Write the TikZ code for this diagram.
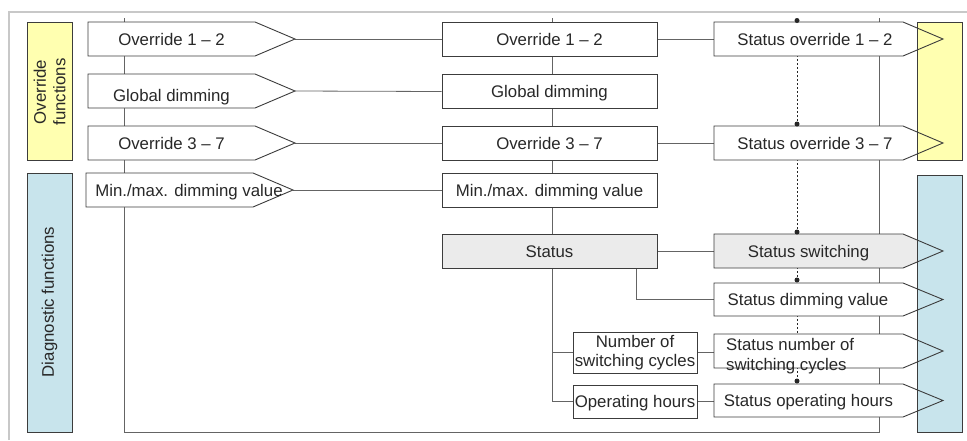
\documentclass[tikz,border=0pt]{standalone}
\usepackage{fontspec}
\setmainfont{Liberation Sans}
\usetikzlibrary{fit,calc}
\definecolor{framec}{RGB}{200,200,200}
\definecolor{bordc}{RGB}{60,60,60}
\definecolor{linec}{RGB}{100,100,100}
\definecolor{txtc}{RGB}{40,40,40}
\definecolor{ylw}{RGB}{255,255,176}
\definecolor{blu}{RGB}{200,228,236}
\definecolor{stg}{RGB}{235,235,235}
\pgfdeclarelayer{bg}
\pgfsetlayers{bg,main}
\tikzset{
  bord/.style={draw=bordc, line width=0.9pt},
  conn/.style={draw=linec, line width=0.8pt},
  txt/.style={text=txtc, font=\fontsize{16.8}{19.5}\selectfont, inner sep=1pt},
  one/.style={text height=12.5pt, text depth=0.5pt},
  midbox/.style={bord, fill=white, minimum width=215pt, minimum height=34pt, txt},
  colbox/.style={bord, minimum width=45pt},
  dotc/.style={fill=black!85, draw=none, circle, minimum size=5pt, inner sep=0pt},
  dotline/.style={draw=black!85, line width=0.9pt, dash pattern=on 1.5pt off 2.5pt},
}
\newcommand\mkpent[7]{%
  \coordinate (#1-a) at (#2,#5);
  \coordinate (#1-b) at (#3,#6);
  \node[fit=(#1-a)(#1-b), inner sep=0pt, outer sep=0pt, draw=none] (#1) {};
  \coordinate (#1-tip) at (#4,{(#5+#6)/2});
  \fill[#7] (#1.north west) -- (#1.north east) -- (#1-tip) -- (#1.south east) -- (#1.south west) -- cycle;
}
\newcommand\outpent[1]{%
  \draw[bord] (#1.north west) -- (#1.north east) -- (#1-tip) -- (#1.south east) -- (#1.south west) -- cycle;
}
\begin{document}
\begin{tikzpicture}[x=1pt,y=-1pt]
\useasboundingbox (0,0) rectangle (967,440);
% frame
\coordinate (f1) at (9,440);
\coordinate (f2) at (9,12);
\coordinate (f3) at (967,12);
\draw[framec, line width=2pt] (f1) -- (f2) -- (f3);
% left colour boxes
\node[colbox, fill=ylw, minimum height=138pt] (yL) at (49.5,91) {};
\node[colbox, fill=blu, minimum height=259pt] (bL) at (49.5,302.5) {};
% pentagon fills
\mkpent{L1}{88}{255}{295}{22}{56}{white}
\mkpent{L2}{88}{255}{295}{74}{108}{white}
\mkpent{L3}{88}{255}{295}{126}{160}{white}
\mkpent{L4}{86}{253}{293}{173}{207}{white}
\mkpent{R1}{714}{903}{943}{22}{56}{white}
\mkpent{R2}{714}{903}{943}{126}{160}{white}
\mkpent{R3}{714}{903}{943}{234}{268}{stg}
\mkpent{R4}{714}{903}{943}{283}{316}{white}
\mkpent{R5}{714}{903}{943}{334}{368}{white}
\mkpent{R6}{714}{903}{943}{384}{417}{white}
% middle boxes
\node[midbox, one] (M1) at (549.5,39) {Override 1 – 2};
\node[midbox, one] (M2) at (549.5,91.5) {Global dimming};
\node[midbox, one] (M3) at (549.5,143) {Override 3 – 7};
\node[midbox, one] (M4) at (549.5,190) {Min./max. dimming value};
\node[midbox, one, fill=stg] (St) at (549.5,251) {Status};
\node[midbox, minimum width=124pt, minimum height=41pt, align=center] (Num) at (635,352.5) {Number of\\switching cycles};
\node[midbox, one, minimum width=124pt, minimum height=33pt] (Op) at (635,401.5) {Operating hours};
% right colour boxes
\node[colbox, fill=ylw, minimum height=138pt] (yR) at (939.5,91) {};
\node[colbox, fill=blu, minimum height=257pt] (bR) at (939.5,303.5) {};
% pentagon outlines
\outpent{L1}\outpent{L2}\outpent{L3}\outpent{L4}
\outpent{R1}\outpent{R2}\outpent{R3}\outpent{R4}\outpent{R5}\outpent{R6}
% dots
\node[dotc] (dt1) at (797,20.5) {};
\node[dotc] (dt2) at (797,124) {};
\node[dotc] (dt3) at (797,232) {};
\node[dotc] (dt4) at (797,280) {};
\node[dotc] (dt5) at (797,381) {};
% texts
\node[txt, rotate=90, align=center] (ovt) at (49.5,92) {Override\\functions};
\node[txt, rotate=90] (dgt) at (49.5,302) {Diagnostic functions};
\node[txt, one] (L1t) at (171.5,39) {Override 1 – 2};
\node[txt, one] (L2t) at (171.5,95.7) {Global dimming};
\node[txt, one] (L3t) at (171.5,143) {Override 3 – 7};
\node[txt, one] (L4t) at (189,190) {Min./max. dimming value};
\node[txt, one] (R1t) at (815,39) {Status override 1 – 2};
\node[txt, one] (R2t) at (815,143) {Status override 3 – 7};
\node[txt, one] (R3t) at (808.5,251) {Status switching};
\node[txt, one] (R4t) at (808,299.5) {Status dimming value};
\node[txt, align=left, anchor=west, inner sep=0pt] (R5t) at (726,356) {Status number of\\switching cycles};
\node[txt, one] (R6t) at (808.5,400.5) {Status operating hours};
% connectors
\begin{pgfonlayer}{bg}
\coordinate (lt) at (124,18);
\coordinate (lb) at (124,432);
\coordinate (rb) at (879,432);
\coordinate (rt) at (879,18);
\coordinate (mt) at (552,18);
\coordinate (x636) at (636,0);
\draw[conn] (lt) -- (lb) -- (rb) -- (rt);
\draw[conn] (mt) -- (mt |- St.north);
\draw[conn] (L1-tip) -- (M1.west);
\draw[conn] (L2-tip) -- (M2.west);
\draw[conn] (L3-tip) -- (M3.west);
\draw[conn] (L4-tip) -- (M4.west);
\draw[conn] (M1.east) -- (R1.west);
\draw[conn] (M3.east) -- (R2.west);
\draw[conn] (St.east) -- (R3.west);
\draw[conn] (St.south -| x636) |- (R4.west);
\draw[conn] (mt |- St.south) |- (Op.west);
\draw[conn] (mt |- Num.west) -- (Num.west);
\draw[conn] (Num.east) -- (Num.east -| R5.west);
\draw[conn] (Op.east) -- (Op.east -| R6.west);
\draw[dotline] (dt1) -- (dt5);
\end{pgfonlayer}
\end{tikzpicture}
\end{document}
